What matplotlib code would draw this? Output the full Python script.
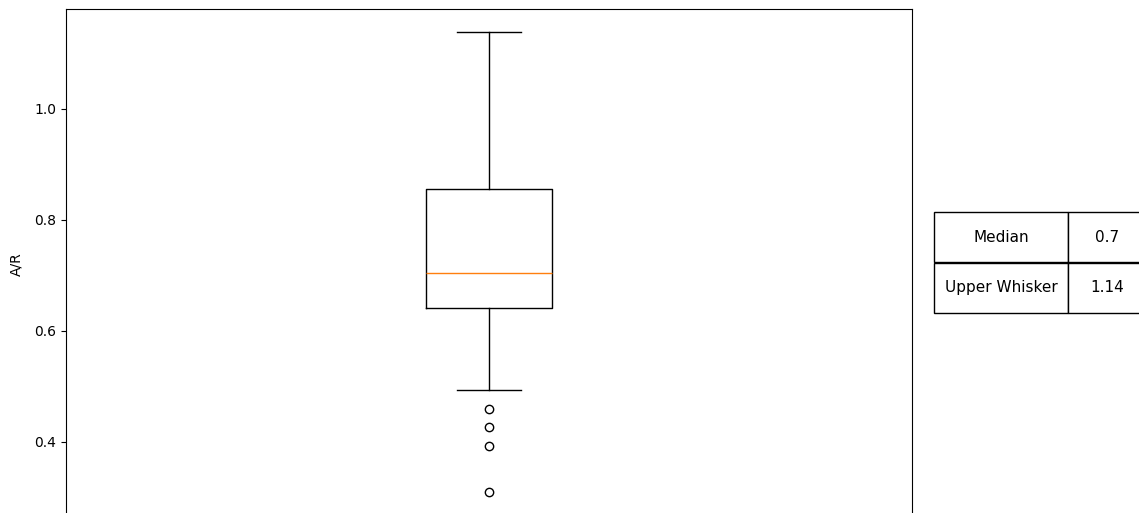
import matplotlib
matplotlib.use("Agg")
import matplotlib.pyplot as plt

# Box statistics
q1 = 0.641
median = 0.704
q3 = 0.856
whisker_low = 0.494
whisker_high = 1.139
outliers = [0.459, 0.427, 0.393, 0.310]

table_labels = ["Median", "Upper Whisker"]
table_values = ["0.7", "1.14"]

W, H = 1139, 513
fig = plt.figure(figsize=(W / 100, H / 100), dpi=100)

ymin, ymax = 0.26, 1.18
px_per_unit = 555.0
top_px = 9
bottom_px = top_px + (ymax - ymin) * px_per_unit
left_px, right_px = 66, 912
ax = fig.add_axes([left_px / W, (H - bottom_px) / H,
                   (right_px - left_px) / W, (bottom_px - top_px) / H])

stats = [dict(med=median, q1=q1, q3=q3, whislo=whisker_low,
              whishi=whisker_high, fliers=outliers, label="")]
ax.bxp(stats, positions=[1], widths=0.15)
ax.set_xlim(0.5, 1.5)
ax.set_ylim(ymin, ymax)
ax.set_yticks([0.4, 0.6, 0.8, 1.0])
ax.set_ylabel("A/R", labelpad=7.5)
ax.set_xticks([])

axw = right_px - left_px
axh = bottom_px - top_px
x0 = (934 - left_px) / axw
c1 = 134 / axw
c2 = 78 / axw
y0 = (bottom_px - 313) / axh
h = 101 / axh
tbl = ax.table(cellText=[[l, v] for l, v in zip(table_labels, table_values)],
               colWidths=[c1, c2], cellLoc="center",
               bbox=[x0, y0, c1 + c2, h])
tbl.auto_set_font_size(False)
tbl.set_fontsize(11)
for cell in tbl.get_celld().values():
    cell.set_clip_on(False)

fig.savefig("out.png", dpi=100)
